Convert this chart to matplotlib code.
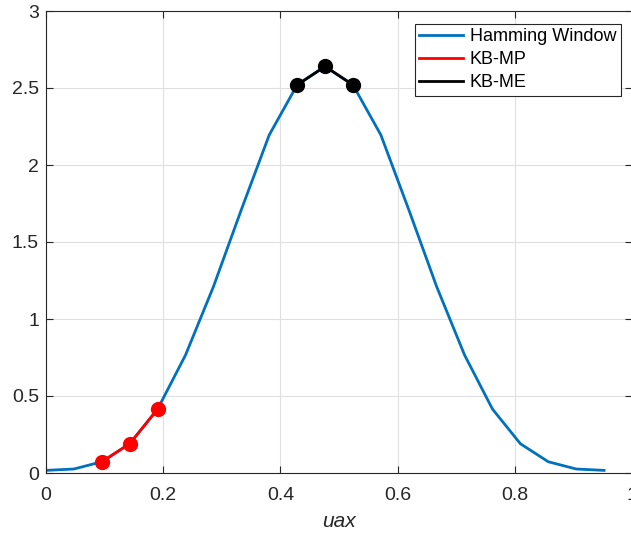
import numpy as np
import matplotlib.pyplot as plt

# Hamming window samples (21 points on k/21)
x_ham = [k / 21 for k in range(21)]
y_ham = [0.017, 0.026, 0.073, 0.19, 0.415, 0.766, 1.21, 1.71, 2.195, 2.52, 2.64,
         2.52, 2.195, 1.71, 1.21, 0.766, 0.415, 0.19, 0.073, 0.026, 0.017]

# KB-MP segment (red) and KB-ME segment (black)
idx_mp = [2, 3, 4]
idx_me = [9, 10, 11]

x_ticks = [0, 0.2, 0.4, 0.6, 0.8, 1]
x_ticklabels = ["0", "0.2", "0.4", "0.6", "0.8", "1"]
y_ticks = [0, 0.5, 1, 1.5, 2, 2.5, 3]
y_ticklabels = ["0", "0.5", "1", "1.5", "2", "2.5", "3"]

plt.rcParams['font.family'] = ['Liberation Sans', 'DejaVu Sans']
plt.rcParams['font.size'] = 13

dark = (0.15, 0.15, 0.15)
blue = (0, 0.447, 0.741)

fig = plt.figure(figsize=(6.31, 5.33), dpi=100)
ax = fig.add_axes([46 / 631, 60 / 533, 586 / 631, 462 / 533])

ax.plot(x_ham, y_ham, color=blue, lw=2, label="Hamming Window")

x_mp = [x_ham[i] for i in idx_mp]
y_mp = [y_ham[i] for i in idx_mp]
x_me = [x_ham[i] for i in idx_me]
y_me = [y_ham[i] for i in idx_me]

ax.plot(x_mp, y_mp, color="red", lw=2, label="KB-MP")
ax.plot(x_me, y_me, color="black", lw=2, label="KB-ME")
ax.plot(x_mp, y_mp, "o", color="red", ms=11, mew=0)
ax.plot(x_me, y_me, "o", color="black", ms=11, mew=0)

ax.set_xlim(0, 1)
ax.set_ylim(0, 3)
ax.set_xticks(x_ticks)
ax.set_xticklabels(x_ticklabels)
ax.set_yticks(y_ticks)
ax.set_yticklabels(y_ticklabels)
ax.tick_params(direction="in", length=5, width=0.8, colors=dark,
               top=True, right=True, labelsize=14)
ax.tick_params(axis="x", pad=10)
ax.tick_params(axis="y", pad=5)
for s in ax.spines.values():
    s.set_color(dark)
    s.set_linewidth(0.8)
ax.grid(True, color=(0.88, 0.88, 0.88), lw=0.8)
ax.set_axisbelow(True)

ax.set_xlabel("uax", style="italic", color=dark, fontsize=15, labelpad=6)

leg = ax.legend(loc="upper right", bbox_to_anchor=(0.981, 0.972), borderaxespad=0,
                fancybox=False, framealpha=1, edgecolor=dark,
                handlelength=2.4, handletextpad=0.4, labelspacing=0.33,
                borderpad=0.25)
leg.get_frame().set_linewidth(0.8)

fig.savefig("out.png", dpi=100)
